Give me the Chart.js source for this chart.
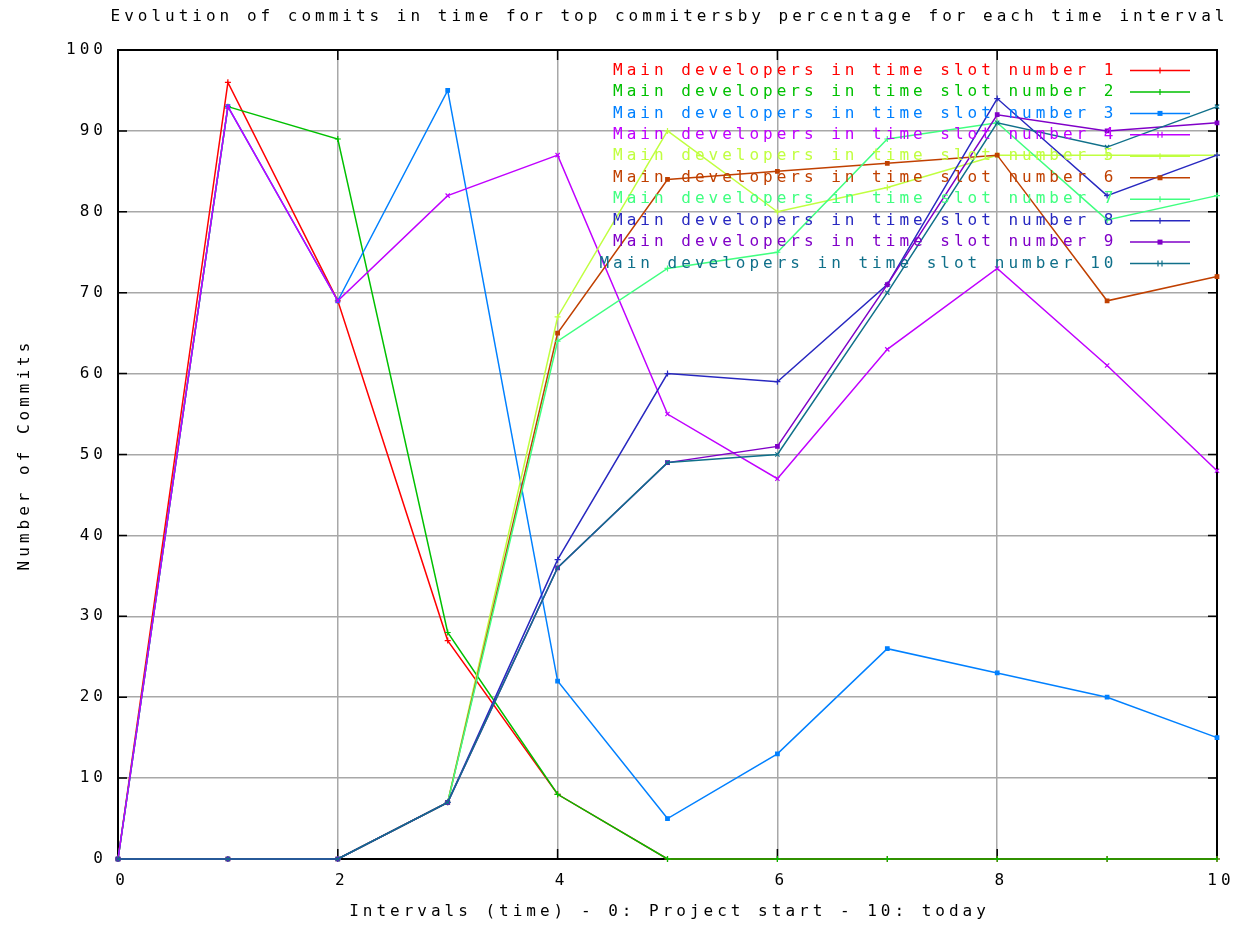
<!DOCTYPE html>
<html>
<head>
<meta charset="utf-8">
<script src="https://cdn.jsdelivr.net/npm/chart.js@4.4.1/dist/chart.umd.min.js"></script>
<style>
  html, body { margin: 0; padding: 0; background: #ffffff; }
  #wrap { width: 1238px; height: 927px; position: relative; }
</style>
</head>
<body>
<div id="wrap"><canvas id="chart" width="1238" height="927"></canvas></div>
<script>
// Time intervals (0 = project start, 10 = today)
const intervals = [0, 1, 2, 3, 4, 5, 6, 7, 8, 9, 10];

// Commit share (%) of the main developers of each time slot, per interval
const slot1  = [0, 96, 69, 27,  8,  0,  0,  0,  0,  0,  0];
const slot2  = [0, 93, 89, 28,  8,  0,  0,  0,  0,  0,  0];
const slot3  = [0, 93, 69, 95, 22,  5, 13, 26, 23, 20, 15];
const slot4  = [0, 93, 69, 82, 87, 55, 47, 63, 73, 61, 48];
const slot5  = [0,  0,  0,  7, 67, 90, 80, 83, 87, 87, 87];
const slot6  = [0,  0,  0,  7, 65, 84, 85, 86, 87, 69, 72];
const slot7  = [0,  0,  0,  7, 64, 73, 75, 89, 91, 79, 82];
const slot8  = [0,  0,  0,  7, 37, 60, 59, 71, 94, 82, 87];
const slot9  = [0,  0,  0,  7, 36, 49, 51, 71, 92, 90, 91];
const slot10 = [0,  0,  0,  7, 36, 49, 50, 70, 91, 88, 93];

const seriesLabels = [
  'Main developers in time slot number 1',
  'Main developers in time slot number 2',
  'Main developers in time slot number 3',
  'Main developers in time slot number 4',
  'Main developers in time slot number 5',
  'Main developers in time slot number 6',
  'Main developers in time slot number 7',
  'Main developers in time slot number 8',
  'Main developers in time slot number 9',
  'Main developers in time slot number 10'
];

const yTicks = [0, 10, 20, 30, 40, 50, 60, 70, 80, 90, 100];
const xTicks = [0, 2, 4, 6, 8, 10];

const titleText = 'Evolution of commits in time for top commitersby percentage for each time interval';
const xTitleText = 'Intervals (time) - 0: Project start - 10: today';
const yTitleText = 'Number of Commits';

const colors = ['#ff0000', '#00c000', '#0080ff', '#c000ff', '#c0ff40',
                '#c04000', '#40ff80', '#2828c0', '#8000c8', '#10708a'];
const markers = ['cross', 'cross', 'rect', 'crossRot', 'cross',
                 'rect', 'cross', 'cross', 'rect', 'crossRot'];

const allSeries = [slot1, slot2, slot3, slot4, slot5, slot6, slot7, slot8, slot9, slot10];

const FONT = '"DejaVu Sans Mono", "Liberation Mono", monospace';
const FONT_SIZE = 16;
const SPACING = '4px';

// Later slots are painted over earlier ones
const datasets = allSeries.map((vals, i) => ({
  label: seriesLabels[i],
  data: intervals.map((x, j) => ({ x: x, y: vals[j] })),
  order: allSeries.length - 1 - i,
  borderColor: colors[i],
  backgroundColor: colors[i],
  borderWidth: 1.5,
  pointStyle: markers[i],
  pointRadius: markers[i] === 'rect' ? 2.5 : 3,
  pointBorderWidth: 1.2,
  pointBorderColor: colors[i],
  pointBackgroundColor: colors[i],
  fill: false,
  tension: 0,
  clip: 5
}));

// Monospace text spacing for all canvas text
const spacingPlugin = {
  id: 'spacing',
  beforeLayout(chart) { chart.ctx.letterSpacing = SPACING; },
  beforeDraw(chart) { chart.ctx.letterSpacing = SPACING; }
};

// Plot frame and inward tick marks, under the data lines
const framePlugin = {
  id: 'frame',
  beforeDatasetsDraw(chart) {
    const ctx = chart.ctx;
    const a = chart.chartArea;
    const xs = chart.scales.x, ys = chart.scales.y;
    ctx.save();
    ctx.strokeStyle = '#000000';
    ctx.lineWidth = 1.5;
    ctx.beginPath();
    yTicks.forEach(v => {
      const py = ys.getPixelForValue(v);
      ctx.moveTo(a.left, py); ctx.lineTo(a.left + 9, py);
      ctx.moveTo(a.right, py); ctx.lineTo(a.right - 9, py);
    });
    xTicks.forEach(v => {
      const px = xs.getPixelForValue(v);
      ctx.moveTo(px, a.bottom); ctx.lineTo(px, a.bottom - 10);
      ctx.moveTo(px, a.top); ctx.lineTo(px, a.top + 10);
    });
    ctx.stroke();
    ctx.lineWidth = 2;
    ctx.strokeRect(a.left, a.top, a.right - a.left, a.bottom - a.top);
    ctx.restore();
  }
};

// Key inside the plot, plus the chart and axis titles
const keyPlugin = {
  id: 'key',
  afterDatasetsDraw(chart) {
    const ctx = chart.ctx;
    const a = chart.chartArea;
    ctx.save();
    ctx.letterSpacing = SPACING;
    ctx.font = FONT_SIZE + 'px ' + FONT;
    ctx.textBaseline = 'middle';
    ctx.textAlign = 'right';
    const rowH = 21.45;
    const y0 = a.top + 20.5;
    const textX = a.right - 99.5;
    const lineL = a.right - 87, lineR = a.right - 27;
    chart.data.datasets.forEach((ds, i) => {
      const y = y0 + i * rowH;
      ctx.fillStyle = ds.borderColor;
      ctx.fillText(ds.label, textX, y);
      ctx.strokeStyle = ds.borderColor;
      ctx.lineWidth = 1.5;
      ctx.beginPath();
      ctx.moveTo(lineL, y);
      ctx.lineTo(lineR, y);
      ctx.stroke();
      const mx = (lineL + lineR) / 2;
      ctx.lineWidth = 1.2;
      if (ds.pointStyle === 'rect') {
        ctx.fillRect(mx - 2.5, y - 2.5, 5, 5);
      } else if (ds.pointStyle === 'crossRot') {
        ctx.beginPath();
        ctx.moveTo(mx - 2, y - 3); ctx.lineTo(mx - 2, y + 3);
        ctx.moveTo(mx + 2, y - 3); ctx.lineTo(mx + 2, y + 3);
        ctx.stroke();
      } else {
        ctx.beginPath();
        ctx.moveTo(mx, y - 3); ctx.lineTo(mx, y + 3);
        ctx.stroke();
      }
    });

    ctx.fillStyle = '#000000';
    ctx.textAlign = 'center';
    const cx = (a.left + a.right) / 2 + 2;
    ctx.fillText(titleText, cx, 17);
    ctx.fillText(xTitleText, cx, 912);
    ctx.translate(25, (a.top + a.bottom) / 2);
    ctx.rotate(-Math.PI / 2);
    ctx.fillText(yTitleText, 0, 0);
    ctx.restore();
  }
};

new Chart(document.getElementById('chart'), {
  type: 'line',
  data: { datasets: datasets },
  options: {
    responsive: false,
    animation: false,
    events: [],
    layout: { padding: { top: 50, right: 21, left: 0, bottom: 0 } },
    plugins: {
      legend: { display: false },
      title: { display: false },
      tooltip: { enabled: false }
    },
    scales: {
      x: {
        type: 'linear',
        min: 0,
        max: 10,
        afterBuildTicks(scale) { scale.ticks = xTicks.map(v => ({ value: v })); },
        afterFit(scale) {
          scale.height = 68;
          scale.paddingLeft = 0;
          scale.paddingRight = 0;
        },
        ticks: {
          color: '#000000',
          font: { family: FONT, size: FONT_SIZE },
          padding: 12,
          labelOffset: 4,
          maxRotation: 0,
          callback: v => String(v)
        },
        grid: { color: '#a8a8a8', lineWidth: 1.5, drawTicks: false },
        border: { display: false }
      },
      y: {
        type: 'linear',
        min: 0,
        max: 100,
        afterBuildTicks(scale) { scale.ticks = yTicks.map(v => ({ value: v })); },
        afterFit(scale) {
          scale.width = 118;
          scale.paddingTop = 0;
          scale.paddingBottom = 0;
        },
        ticks: {
          color: '#000000',
          font: { family: FONT, size: FONT_SIZE },
          padding: 11,
          callback: v => String(v)
        },
        grid: { color: '#a8a8a8', lineWidth: 1.5, drawTicks: false },
        border: { display: false }
      }
    }
  },
  plugins: [spacingPlugin, framePlugin, keyPlugin]
});
</script>
</body>
</html>
